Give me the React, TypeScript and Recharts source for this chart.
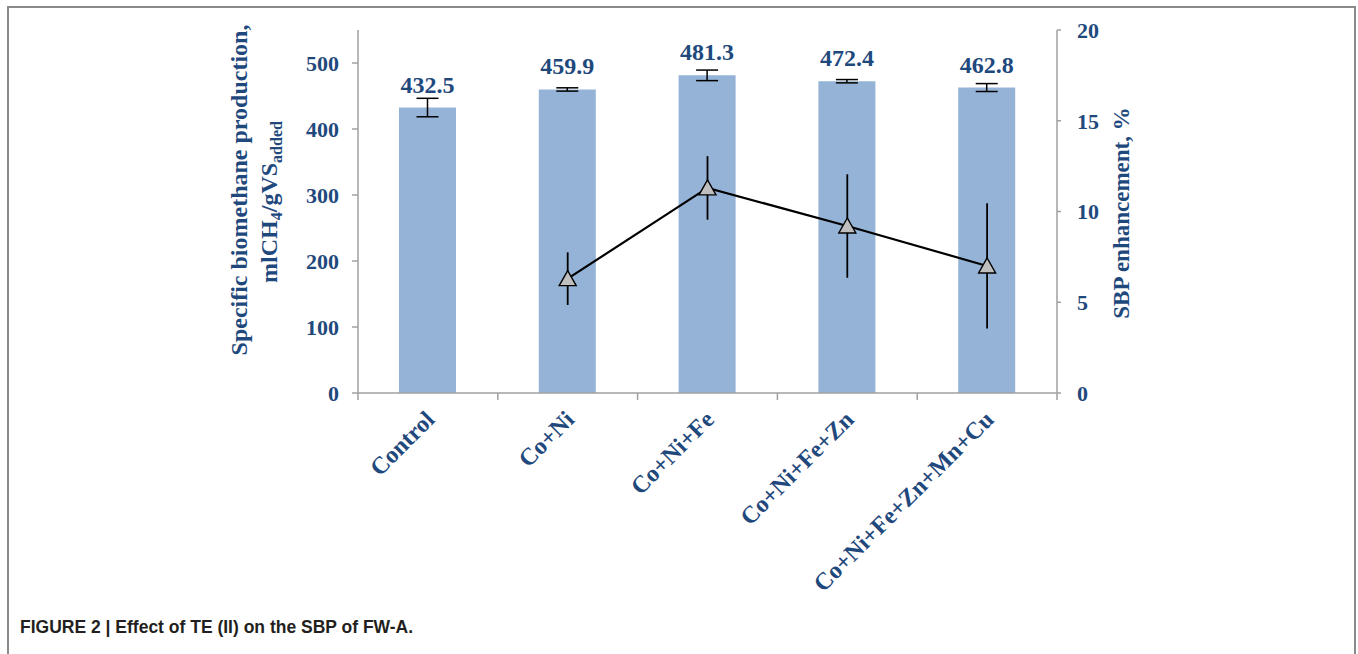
import React from "react";
import { Bar, ComposedChart, ErrorBar, Label, LabelList, Line, XAxis, YAxis } from "recharts";

const categories = ["Control", "Co+Ni", "Co+Ni+Fe", "Co+Ni+Fe+Zn", "Co+Ni+Fe+Zn+Mn+Cu"];
const sbp = [432.5, 459.9, 481.3, 472.4, 462.8];
const sbpErr = [14, 2.5, 8, 2.5, 6];
const enhancement = [null, 6.3, 11.3, 9.2, 7.0];
const enhancementErr = [null, 1.45, 1.75, 2.85, 3.45];
const leftTicks = [0, 100, 200, 300, 400, 500];
const rightTicks = [0, 5, 10, 15, 20];

const data = categories.map((name, i) => ({
  name,
  sbp: sbp[i],
  sbpErr: sbpErr[i],
  enh: enhancement[i],
  enhErr: enhancementErr[i],
}));

const W = 1358;
const H = 654;
const TOP = 30;
const PLOT_H = 363;
const LEFT_W = 358;
const RIGHT_W = 301;
const BAND = (W - LEFT_W - RIGHT_W) / categories.length;

const navy = "#1F497D";
const axisGray = "#A0A0A0";
const serif = '"Liberation Serif", "Times New Roman", serif';

const tickStyle = { fill: navy, fontFamily: serif, fontWeight: 700, fontSize: 22 };

function CategoryTick(props: any) {
  const { x, y, payload, index } = props;
  const last = index === categories.length - 1;
  const tx = x + 8;
  const ty = y + 28;
  return (
    <g>
      <line x1={x - BAND / 2} y1={y} x2={x - BAND / 2} y2={y + 7} stroke={axisGray} strokeWidth={1.5} />
      {last && <line x1={x + BAND / 2} y1={y} x2={x + BAND / 2} y2={y + 7} stroke={axisGray} strokeWidth={1.5} />}
      <text
        x={tx}
        y={ty}
        transform={`rotate(-45 ${tx} ${ty})`}
        textAnchor="end"
        fill={navy}
        fontFamily={serif}
        fontWeight={700}
        fontSize={24}
      >
        {payload.value}
      </text>
    </g>
  );
}

function Triangle(props: any) {
  const { cx, cy, value } = props;
  if (value == null || cx == null || cy == null) return null;
  return (
    <polygon
      points={`${cx},${cy - 8} ${cx - 8.5},${cy + 7} ${cx + 8.5},${cy + 7}`}
      fill="#BFBFBF"
      stroke="#000"
      strokeWidth={1.4}
    />
  );
}

function LeftTitle() {
  return (
    <g fill={navy} fontFamily={serif} fontWeight={700} fontSize={24}>
      <text x={247} y={190} transform="rotate(-90 247 190)" textAnchor="middle">
        Specific biomethane production,
      </text>
      <text x={277} y={202} transform="rotate(-90 277 202)" textAnchor="middle">
        mlCH
        <tspan dy={5} fontSize={16}>4</tspan>
        <tspan dy={-5}>/gVS</tspan>
        <tspan dy={5} fontSize={16}>added</tspan>
      </text>
    </g>
  );
}

function RightTitle() {
  return (
    <text
      x={1129}
      y={213}
      transform="rotate(-90 1129 213)"
      textAnchor="middle"
      fill={navy}
      fontFamily={serif}
      fontWeight={700}
      fontSize={23}
    >
      SBP enhancement, %
    </text>
  );
}

export default function App() {
  return (
    <div style={{ position: "absolute", left: 0, top: 0, width: W, height: 654, background: "#fff", overflow: "hidden" }}>
      <div
        style={{
          position: "absolute",
          left: 7,
          top: 6,
          width: 1349,
          height: 700,
          border: "2px solid #8a8a8a",
          boxSizing: "border-box",
        }}
      />
      <div style={{ position: "absolute", left: 0, top: 0 }}>
        <ComposedChart width={W} height={H} data={data} margin={{ top: TOP, right: 0, bottom: 0, left: 0 }}>
          <XAxis
            dataKey="name"
            height={H - TOP - PLOT_H}
            axisLine={{ stroke: axisGray, strokeWidth: 1.5 }}
            tickLine={false}
            tickSize={0}
            tickMargin={0}
            interval={0}
            tick={<CategoryTick />}
          />
          <YAxis
            yAxisId="left"
            width={LEFT_W}
            domain={[0, 550]}
            ticks={leftTicks}
            axisLine={{ stroke: axisGray, strokeWidth: 1.5 }}
            tickLine={{ stroke: axisGray, strokeWidth: 1.5 }}
            tickSize={6}
            tickMargin={13}
            tick={tickStyle}
          >
            <Label content={() => <LeftTitle />} />
          </YAxis>
          <YAxis
            yAxisId="right"
            orientation="right"
            width={RIGHT_W}
            domain={[0, 20]}
            ticks={rightTicks}
            axisLine={{ stroke: axisGray, strokeWidth: 1.5 }}
            tickLine={{ stroke: axisGray, strokeWidth: 1.5 }}
            tickSize={4}
            tickMargin={16}
            tick={{ ...tickStyle, textAnchor: "start" }}
          >
            <Label content={() => <RightTitle />} />
          </YAxis>
          <Bar yAxisId="left" dataKey="sbp" fill="#95B3D7" barSize={57} isAnimationActive={false}>
            <ErrorBar dataKey="sbpErr" direction="y" width={11} stroke="#000" strokeWidth={1.5} />
            <LabelList
              dataKey="sbp"
              position="top"
              offset={15}
              fill={navy}
              style={{ fontFamily: serif, fontWeight: 700, fontSize: 24 }}
            />
          </Bar>
          <Line
            yAxisId="right"
            type="linear"
            dataKey="enh"
            stroke="#000"
            strokeWidth={2.2}
            dot={<Triangle />}
            activeDot={false}
            isAnimationActive={false}
          >
            <ErrorBar dataKey="enhErr" direction="y" width={0} stroke="#000" strokeWidth={1.8} />
          </Line>
        </ComposedChart>
      </div>
      <div
        style={{
          position: "absolute",
          left: 20,
          top: 617,
          fontFamily: '"Liberation Sans", Arial, sans-serif',
          fontWeight: 700,
          fontSize: 17.5,
          lineHeight: "20px",
          color: "#231f20",
          whiteSpace: "nowrap",
        }}
      >
        FIGURE 2 | Effect of TE (II) on the SBP of FW-A.
      </div>
    </div>
  );
}
